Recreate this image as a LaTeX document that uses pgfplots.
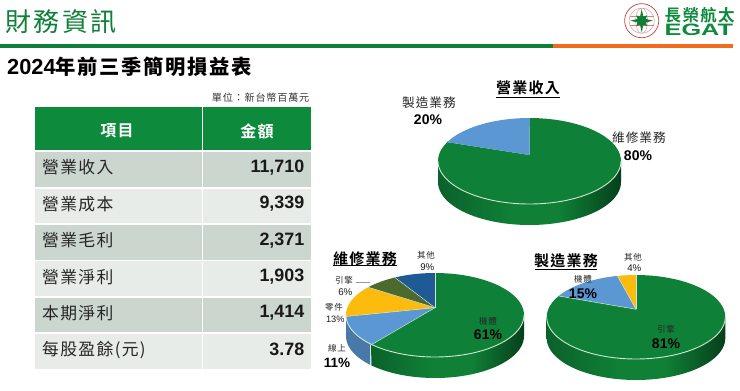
\documentclass[border=0pt]{standalone}
\usepackage{fontspec}
\usepackage{pgfplots}
\pgfplotsset{compat=1.18}
\setmainfont{Liberation Sans}
\newfontfamily\cjk[LetterSpace=8]{Noto Sans CJK TC}
\newfontfamily\cjkb[LetterSpace=8]{Noto Sans CJK TC Bold}
\definecolor{egreen}{HTML}{0E8038}
\definecolor{hgreen}{HTML}{0E8A3C}
\definecolor{rowd}{HTML}{CBD6CE}
\definecolor{rowl}{HTML}{E7ECE8}
\definecolor{orng}{HTML}{F26A1C}
\definecolor{pblue}{HTML}{5B97D3}
\definecolor{pyel}{HTML}{FDBB0E}
\definecolor{poli}{HTML}{4C6A2E}
\definecolor{pdbl}{HTML}{1F5A96}
\definecolor{gs1}{HTML}{0A5A29}
\definecolor{gs2}{HTML}{0F8036}
\definecolor{gs3}{HTML}{043417}
\definecolor{gs4}{HTML}{074A20}
\definecolor{rim}{HTML}{CFE8CF}
\pgfdeclarehorizontalshading{gside}{100bp}{color(0bp)=(gs1);color(20bp)=(gs1);color(45bp)=(gs2);color(58bp)=(gs2);color(78bp)=(gs3);color(90bp)=(gs3);color(100bp)=(gs4)}
% ellipse centre x, centre y, rx, ry, apex y, t1, t2, colour
\newcommand{\pwedge}[8]{\addplot[fill=#8,draw=none,domain=#6:#7,samples=60] ({#1+#3*cos(x)},{#2-#4*sin(x)}) -- (axis cs:#1,#5) -- cycle;}
\newcommand{\redge}[6]{\addplot[draw=rim,line width=0.45pt,domain=0:1,samples=2] ({#1+x*#3*cos(#6)},{#5+x*(#2-#4*sin(#6)-#5)});}
\newcommand{\rimline}[4]{\addplot[draw=rim,line width=0.9pt,domain=180:360,samples=80] ({#1+#3*cos(x)},{#2-#4*sin(x)});}
\newcommand{\cell}[5]{\addplot[fill=#5,draw=none] coordinates {(#1,#3) (#2,#3) (#2,#4) (#1,#4)} -- cycle;}
\newcommand{\fs}[1]{\fontsize{#1}{#1}\selectfont}
\newcommand{\lab}[4]{\node[inner sep=0pt,text=#4] at (axis cs:#1,#2) {#3};}
\newcommand{\rl}[2]{\node[inner sep=0pt,anchor=west,text=black!85] at (axis cs:42,#1) {\fs{16.8}\cjk #2};}
\newcommand{\rv}[2]{\node[inner sep=0pt,anchor=east,text=black!90] at (axis cs:304.5,#1) {\fs{17.9}\bfseries #2};}
\begin{document}
\begin{tikzpicture}[x=1pt,y=1pt]
\begin{axis}[scale only axis,width=740pt,height=391pt,xmin=0,xmax=740,ymin=0,ymax=391,y dir=reverse,axis lines=none,ticks=none,clip=true]
\addplot[fill=white,draw=none] coordinates {(0,0) (740,0) (740,391) (0,391)} -- cycle;
% header
\cell{0}{552.7}{44}{47.7}{egreen}
\cell{552.7}{732.7}{44}{47.7}{orng}
\lab{61}{22}{\fs{26}\cjk 財務資訊}{egreen}
\node[inner sep=0pt,anchor=west] at (axis cs:7,67) {\fs{21.8}\bfseries 2024\fs{20.3}\cjkb 年前三季簡明損益表};
\node[inner sep=0pt,anchor=east,text=black!80] at (axis cs:309.5,98) {\fs{10.1}\cjk 單位：新台幣百萬元};
% logo
\addplot[draw=red!70!black!75,fill=white,line width=0.7pt,domain=0:360,samples=60] ({641.7+17*cos(x)},{20.7+17*sin(x)}) -- cycle;
\addplot[draw=red!70!black!50,line width=0.35pt,domain=0:360,samples=60] ({641.7+12.5*cos(x)},{20.7+12.5*sin(x)});
\addplot[draw=red!70!black!50,line width=0.3pt,domain=0:360,samples=40] ({641.7+6*cos(x)},{20.7+12.5*sin(x)});
\addplot[draw=red!70!black!50,line width=0.3pt] coordinates {(629.5,16) (653.9,16)};
\addplot[draw=red!70!black!50,line width=0.3pt] coordinates {(629.5,25.4) (653.9,25.4)};
\addplot[fill=egreen,draw=none] coordinates {(641.7,9) (643.3,16.5) (647,15.4) (646,19) (653,20.7) (646,22.4) (647,26) (643.3,24.9) (641.7,32.4) (640.1,24.9) (636.4,26) (637.4,22.4) (630.4,20.7) (637.4,19) (636.4,15.4) (640.1,16.5)} -- cycle;
\node[inner sep=0pt,anchor=west,text=hgreen] at (axis cs:664.5,15) {\fs{16.5}\cjkb 長榮航太};
\node[inner sep=0pt,anchor=west,text=hgreen] at (axis cs:664.5,29.5) {\scalebox{1.53}[1]{\fs{16.5}\bfseries EGAT}};
% table
\cell{35}{202}{107.3}{150}{hgreen}
\cell{203}{310.7}{107.3}{150}{hgreen}
\cell{35}{202}{152}{186.7}{rowd}   \cell{203}{310.7}{152}{186.7}{rowd}
\cell{35}{202}{188.5}{223}{rowl}   \cell{203}{310.7}{188.5}{223}{rowl}
\cell{35}{202}{225}{259.7}{rowd}   \cell{203}{310.7}{225}{259.7}{rowd}
\cell{35}{202}{261.2}{296}{rowl}   \cell{203}{310.7}{261.2}{296}{rowl}
\cell{35}{202}{297.7}{332.3}{rowd} \cell{203}{310.7}{297.7}{332.3}{rowd}
\cell{35}{202}{333.7}{369}{rowl}   \cell{203}{310.7}{333.7}{369}{rowl}
\lab{117}{131}{\fs{16}\cjkb 項目}{white}
\lab{257}{131}{\fs{16}\cjkb 金額}{white}
\rl{167}{營業收入}\rv{168}{11,710}
\rl{204}{營業成本}\rv{204}{9,339}
\rl{240}{營業毛利}\rv{241}{2,371}
\rl{277}{營業淨利}\rv{277}{1,903}
\rl{313}{本期淨利}\rv{313}{1,414}
\rl{350}{每股盈餘(元)}\rv{349}{3.78}
% pie 1: revenue
\addplot[shade,shading=gside,draw=none,domain=180:360,samples=80] ({529.5+91.5*cos(x)},{161+21-43*sin(x)}) -- (axis cs:621,161) -- (axis cs:438,161) -- cycle;
\pwedge{529.5}{161}{91.5}{43}{155}{-206}{90}{egreen}
\pwedge{529.5}{161}{91.5}{43}{155}{90}{154}{pblue}
\rimline{529.5}{161}{91.5}{43}
% pie 2: maintenance
\addplot[shade,shading=gside,draw=none,domain=224.7:360,samples=80] ({435+89*cos(x)},{315+21-42*sin(x)}) -- (axis cs:524,315) -- (axis cs:370.7,344.6) -- cycle;
\addplot[fill=pblue!80!black,draw=none,domain=180:224.7,samples=40] ({435+89*cos(x)},{315+21-42*sin(x)}) -- (axis cs:370.7,344.6) -- (axis cs:435,315) -- (axis cs:346,315) -- cycle;
\pwedge{435}{315}{89}{42}{307.7}{-135.3}{90}{egreen}
\pwedge{435}{315}{89}{42}{307.7}{182}{224.7}{pblue}
\pwedge{435}{315}{89}{42}{307.7}{138.6}{182}{pyel}
\pwedge{435}{315}{89}{42}{307.7}{116.8}{138.6}{poli}
\pwedge{435}{315}{89}{42}{307.7}{90}{116.8}{pdbl}
\redge{435}{315}{89}{42}{307.7}{90}
\redge{435}{315}{89}{42}{307.7}{116.8}
\redge{435}{315}{89}{42}{307.7}{138.6}
\redge{435}{315}{89}{42}{307.7}{182}
\redge{435}{315}{89}{42}{307.7}{224.7}
\rimline{435}{315}{89}{42}
\addplot[draw=rim,line width=0.5pt] coordinates {(370.7,344.6) (370.7,365)};
% pie 3: manufacturing
\addplot[shade,shading=gside,draw=none,domain=180:360,samples=80] ({636+89.3*cos(x)},{317+21-42*sin(x)}) -- (axis cs:725.3,317) -- (axis cs:546.7,317) -- cycle;
\pwedge{636}{317}{89.3}{42}{309.3}{-210}{90}{egreen}
\pwedge{636}{317}{89.3}{42}{309.3}{102}{150}{pblue}
\pwedge{636}{317}{89.3}{42}{309.3}{90}{102}{pyel}
\redge{636}{317}{89.3}{42}{309.3}{90}
\redge{636}{317}{89.3}{42}{309.3}{102}
\redge{636}{317}{89.3}{42}{309.3}{150}
\rimline{636}{317}{89.3}{42}
% pie titles
\lab{528}{88}{\fs{15}\cjkb 營業收入}{black}
\addplot[draw=black,line width=0.7pt] coordinates {(496,97.7) (560,97.7)};
\lab{365}{259}{\fs{15}\cjkb 維修業務}{black}
\addplot[draw=black,line width=0.7pt] coordinates {(333,265.5) (396.5,265.5)};
\lab{566}{261}{\fs{15}\cjkb 製造業務}{black}
\addplot[draw=black,line width=0.7pt] coordinates {(535,269) (597,269)};
% pie 1 labels
\lab{429}{102.5}{\fs{12.7}\cjk 製造業務}{black!85}
\lab{428}{120}{\fs{14}\bfseries 20\%}{black}
\lab{639}{138}{\fs{12.7}\cjk 維修業務}{black!85}
\lab{638}{156}{\fs{14}\bfseries 80\%}{black}
% pie 2 labels
\lab{426}{255}{\fs{8.5}\cjk 其他}{black!85}
\lab{426}{267}{\fs{9.7} 9\%}{black!90}
\lab{344}{280}{\fs{8.5}\cjk 引擎}{black!85}
\lab{344}{292}{\fs{9.7} 6\%}{black!90}
\addplot[draw=black!40,line width=0.5pt] coordinates {(356,282.7) (370,282.7)};
\lab{334}{307}{\fs{8.5}\cjk 零件}{black!85}
\lab{334}{319}{\fs{9.2} 13\%}{black!90}
\lab{337}{348}{\fs{8.5}\cjk 線上}{black!85}
\lab{337}{363}{\fs{13.5}\bfseries 11\%}{black}
\lab{488}{321}{\fs{8.5}\cjk 機體}{black!85}
\lab{488}{335}{\fs{14}\bfseries 61\%}{black}
% pie 3 labels
\lab{633}{257}{\fs{8.5}\cjk 其他}{black!85}
\lab{633}{268}{\fs{9.7} 4\%}{black!90}
\lab{583}{279}{\fs{8.5}\cjk 機體}{black!85}
\lab{583}{294}{\fs{14}\bfseries 15\%}{black}
\lab{666}{329}{\fs{8.5}\cjk 引擎}{black!85}
\lab{666}{344}{\fs{14}\bfseries 81\%}{black}
\end{axis}
\end{tikzpicture}
\end{document}
